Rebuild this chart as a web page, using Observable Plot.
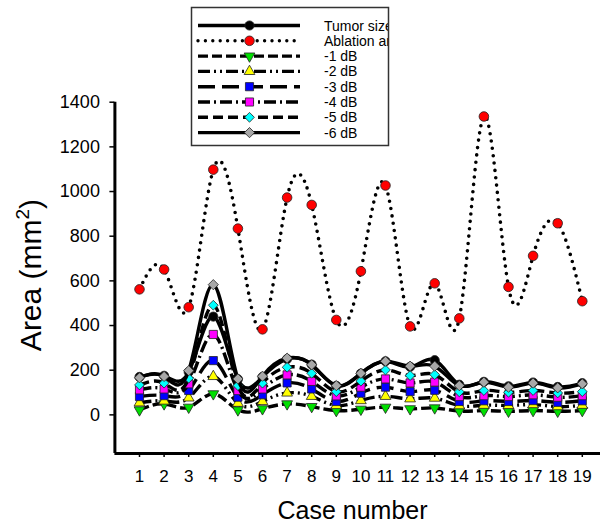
<!DOCTYPE html>
<html><head><meta charset="utf-8">
<script src="https://cdn.jsdelivr.net/npm/d3@7"></script>
<script src="https://cdn.jsdelivr.net/npm/@observablehq/plot@0.6"></script>
<style>
body{margin:0;background:#fff;}
#wrap{width:600px;height:526px;}
</style></head><body><div id="wrap"></div>
<script>
// ---- data ----
const cases = [1,2,3,4,5,6,7,8,9,10,11,12,13,14,15,16,17,18,19];
const tumorSize    = [170,175,192,440,160,170,250,225,130,185,240,215,245,135,148,128,145,125,142];
const ablationArea = [562,651,482,1098,834,383,973,940,425,643,1027,396,589,432,1336,573,712,858,509];
const db1 = [22,49,34,94,22,27,49,37,19,25,34,27,31,17,19,16,19,16,19];
const db2 = [54,62,76,172,52,60,98,83,42,64,83,72,75,41,43,42,46,37,43];
const db3 = [82,86,109,243,79,90,143,116,60,97,124,104,110,60,63,60,64,56,63];
const db4 = [112,116,139,360,109,116,179,150,85,124,161,143,147,82,86,82,90,79,86];
const db5 = [134,142,164,491,131,142,213,186,104,151,201,176,180,103,109,101,109,98,104];
const db6 = [166,172,198,583,161,173,254,224,131,186,240,218,218,131,146,124,142,121,139];
const seriesNames = ["Tumor size","Ablation area","-1 dB","-2 dB","-3 dB","-4 dB","-5 dB","-6 dB"];
const seriesValues = [tumorSize, ablationArea, db1, db2, db3, db4, db5, db6];
const yTickValues = [0,200,400,600,800,1000,1200,1400];
const xTickValues = cases;
const xTitle = "Case number";
const yTitle = "Area (mm";
const yTitleSup = "2";
const yDomain = [-173, 1400];
const xDomain = [0, 19.74];

// ---- styles ----
const triangleDown = {
  draw(ctx, size) {
    const y = Math.sqrt(size / (Math.sqrt(3) * 3));
    ctx.moveTo(0, y * 2);
    ctx.lineTo(-Math.sqrt(3) * y, -y);
    ctx.lineTo(Math.sqrt(3) * y, -y);
    ctx.closePath();
  }
};
const styles = [
  {dash: null, cap: "butt", symbol: "circle", fill: "#000000", r: 4.6},
  {dash: "0 7.4", cap: "round", symbol: "circle", fill: "#ff0000", r: 4.8},
  {dash: "10 4", cap: "butt", symbol: triangleDown, fill: "#00e000", r: 4},
  {dash: "12 4 2 4 2 4", cap: "butt", symbol: "triangle", fill: "#ffff00", r: 4},
  {dash: "17 7", cap: "butt", symbol: "square", fill: "#0000ff", r: 4.6},
  {dash: "12 4 2 4", cap: "butt", symbol: "square", fill: "#ff00ff", r: 4.6},
  {dash: "10 5", cap: "butt", symbol: "diamond2", fill: "#00ffff", r: 4.4},
  {dash: null, cap: "butt", symbol: "diamond2", fill: "#a8a8a8", r: 4.6}
];

const table = seriesNames.map((name, i) =>
  cases.map((c, j) => ({series: name, case: c, value: seriesValues[i][j]})));

const marks = [];
table.forEach((rows, i) => {
  const s = styles[i];
  marks.push(Plot.line(rows, {
    x: "case", y: "value", curve: "natural",
    stroke: "#000", strokeWidth: i === 1 ? 3.6 : 3.4,
    strokeDasharray: s.dash || undefined, strokeLinecap: s.cap
  }));
  marks.push(Plot.dot(rows, {
    x: "case", y: "value", symbol: () => s.symbol, r: s.r,
    fill: s.fill, stroke: "#222", strokeWidth: 0.8
  }));
});

const svg = Plot.plot({
  width: 600, height: 526,
  marginLeft: 114.4, marginRight: 0, marginTop: 101.7, marginBottom: 73,
  style: {fontFamily: "'Liberation Sans', Arial, sans-serif", color: "#000", background: "#fff", overflow: "visible"},
  x: {domain: xDomain},
  y: {domain: yDomain},
  symbol: {type: "identity"},
  marks: [
    Plot.axisY({ticks: yTickValues, tickSize: 5, tickPadding: 10, fontSize: 18, tickFormat: d => String(d), label: null, strokeWidth: 1.5}),
    Plot.axisX({ticks: xTickValues, tickSize: 4, tickPadding: 12, fontSize: 17, tickFormat: d => String(d), label: null, strokeWidth: 1.5}),
    ...marks,
    Plot.ruleX([xDomain[0]], {stroke: "#000", strokeWidth: 3}),
    Plot.ruleY([yDomain[0]], {stroke: "#000", strokeWidth: 3})
  ]
});
document.getElementById("wrap").appendChild(svg);

// ---- axis titles ----
const root = d3.select(svg);
const ff = "'Liberation Sans', Arial, sans-serif";
root.append("text")
  .attr("x", 352.5).attr("y", 519)
  .attr("text-anchor", "middle").attr("font-size", 25).attr("font-family", ff).attr("fill", "#000")
  .text(xTitle);
const yt = root.append("text")
  .attr("transform", "translate(41,275) rotate(-90)")
  .attr("text-anchor", "middle").attr("font-size", 30).attr("font-family", ff).attr("fill", "#000");
yt.append("tspan").text(yTitle);
yt.append("tspan").attr("font-size", 19).attr("dy", -12).text(yTitleSup);
yt.append("tspan").attr("dy", 12).text(")");

// ---- legend ----
root.append("defs").append("clipPath").attr("id", "lgclip")
  .append("rect").attr("x", 191.5).attr("y", 7.5).attr("width", 197).attr("height", 138);
const lg = root.append("g");
lg.append("rect").attr("x", 191.5).attr("y", 7.5).attr("width", 197).attr("height", 138)
  .attr("fill", "#fff").attr("stroke", "none");
const lgi = lg.append("g").attr("clip-path", "url(#lgclip)");
const symMap = {circle: d3.symbolCircle, triangle: d3.symbolTriangle, square: d3.symbolSquare, diamond2: d3.symbolDiamond2};
seriesNames.forEach((name, i) => {
  const s = styles[i];
  const y = 25.5 + i * 15.3;
  lgi.append("line").attr("x1", 198).attr("x2", 300).attr("y1", y).attr("y2", y)
    .attr("stroke", "#000").attr("stroke-width", 3.4)
    .attr("stroke-dasharray", s.dash || null).attr("stroke-linecap", s.cap);
  const type = typeof s.symbol === "string" ? symMap[s.symbol] : s.symbol;
  lgi.append("path").attr("d", d3.symbol().type(type).size(Math.PI * s.r * s.r)())
    .attr("transform", `translate(249.5,${y})`)
    .attr("fill", s.fill).attr("stroke", "#222").attr("stroke-width", 0.8);
  lgi.append("text").attr("x", 324).attr("y", y + 5).attr("text-anchor", "start")
    .attr("font-size", 14).attr("font-family", ff).attr("fill", "#000").text(name);
});
lg.append("rect").attr("x", 191.5).attr("y", 7.5).attr("width", 197).attr("height", 138)
  .attr("fill", "none").attr("stroke", "#333").attr("stroke-width", 1.5);
</script></body></html>
